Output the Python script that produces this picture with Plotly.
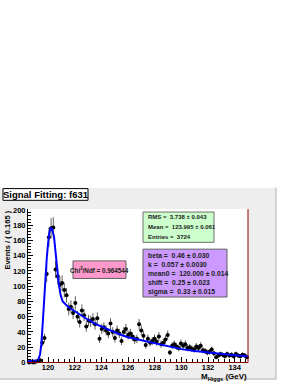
import numpy as np
import plotly.graph_objects as go

W, H = 299, 387

# ---- data ----
x_lo, x_hi, n_bins = 118.5, 135.0, 100
bin_width = 0.165
counts = [0, 1, 0, 1, 2, 3, 26, 32, 116, 164,
          176, 177, 122, 113, 102, 104, 95, 88, 70, 73,
          65, 78, 60, 53, 68, 62, 47, 55, 54, 57,
          50, 58, 31, 44, 46, 42, 38, 51, 40, 32,
          42, 38, 28, 40, 44, 36, 38, 34, 30, 31,
          50, 42, 35, 23, 31, 26, 28, 31, 27, 34,
          24, 26, 30, 36, 13, 22, 24, 21, 19, 25,
          22, 24, 19, 20, 18, 17, 21, 19, 22, 16,
          15, 13, 14, 17, 12, 7, 9, 11, 10, 8,
          11, 9, 10, 8, 11, 9, 8, 10, 9, 7]

fit_x = [118.5, 119.0, 119.25, 119.4, 119.5, 119.6, 119.75, 119.9, 120.0, 120.1,
         120.2, 120.3, 120.45, 120.63, 120.8, 120.95, 121.1, 121.5, 122.0, 122.5,
         123.0, 123.5, 124.0, 124.5, 125.0, 125.5, 126.0, 127.0, 128.0, 129.0,
         130.0, 131.0, 132.0, 133.0, 134.0, 135.0]
fit_y = [1.5, 2, 3, 10, 24, 50, 100, 135, 155, 170,
         176, 175, 165, 130, 104, 88, 80, 73, 67, 61,
         56, 51, 47, 43, 39.5, 36, 33, 29, 25, 21,
         17.5, 15, 13, 11, 9.5, 8]

x_ticks = [120, 122, 124, 126, 128, 130, 132, 134]
y_ticks = [0, 20, 40, 60, 80, 100, 120, 140, 160, 180, 200]

title_text = "Signal Fitting: f631"
stats_lines = ["RMS =  3.738 ± 0.043", "Mean =  123.995 ± 0.061", "Entries =  3724"]
param_lines = ["beta =  0.46 ± 0.030", "k =  0.057 ± 0.0030", "mean0 =  120.000 ± 0.014",
               "shift =  0.25 ± 0.023", "sigma =  0.33 ± 0.015"]
chi_text = "Chi<sup>2</sup>/Ndf = 0.964544"

centers = x_lo + bin_width * (np.arange(n_bins) + 0.5)
counts = np.array(counts, dtype=float)
errs = np.sqrt(counts)


def px(x):
    return x / W


def py(y):
    return 1 - y / H


FONT = "Liberation Sans, Arial, Helvetica, sans-serif"

fig = go.Figure()
fig.add_trace(go.Scatter(
    x=centers, y=counts, mode="markers",
    marker=dict(color="black", size=4),
    error_y=dict(type="data", array=errs, color="#606060", thickness=1, width=0),
    cliponaxis=False, showlegend=False, hoverinfo="skip"))
fig.add_trace(go.Scatter(
    x=fit_x, y=fit_y, mode="lines", line=dict(color="#0000ff", width=2),
    showlegend=False, hoverinfo="skip"))

shapes = []
# ROOT canvas background
shapes.append(dict(type="rect", xref="paper", yref="paper", layer="below",
                   x0=px(0), x1=px(276), y0=py(384), y1=py(188),
                   fillcolor="#eeeeee", line=dict(width=0)))
# white frame area
shapes.append(dict(type="rect", xref="paper", yref="paper", layer="below",
                   x0=px(28), x1=px(248), y0=py(367), y1=py(210),
                   fillcolor="white", line=dict(width=0)))
shapes.append(dict(type="line", xref="paper", yref="paper",
                   x0=px(276), x1=px(276), y0=py(384), y1=py(188),
                   line=dict(color="#b0b0b0", width=1)))
shapes.append(dict(type="line", xref="paper", yref="paper",
                   x0=px(0), x1=px(276), y0=py(384), y1=py(384),
                   line=dict(color="#b0b0b0", width=1)))
# right frame line
shapes.append(dict(type="line", xref="paper", yref="paper",
                   x0=px(248), x1=px(248), y0=py(367), y1=py(210),
                   line=dict(color="#8b0000", width=1)))
# stat boxes
shapes.append(dict(type="rect", xref="paper", yref="paper",
                   x0=px(143), x1=px(214), y0=py(244), y1=py(213),
                   fillcolor="#ccffcc", line=dict(color="#707070", width=1)))
shapes.append(dict(type="rect", xref="paper", yref="paper",
                   x0=px(143), x1=px(227), y0=py(300), y1=py(251),
                   fillcolor="#cc99ff", line=dict(color="#606060", width=1)))
shapes.append(dict(type="rect", xref="paper", yref="paper",
                   x0=px(73), x1=px(126), y0=py(281), y1=py(263),
                   fillcolor="#ff99cc", line=dict(color="#606060", width=1)))
# title box
shapes.append(dict(type="rect", xref="paper", yref="paper",
                   x0=px(3), x1=px(88), y0=py(201), y1=py(189),
                   fillcolor="white", line=dict(color="black", width=1)))

ann = []
ann.append(dict(text="<b>" + title_text + "</b>", x=px(45.5), y=py(195), xref="paper", yref="paper",
                xanchor="center", yanchor="middle", showarrow=False,
                font=dict(family=FONT, size=9.5, color="black")))
for i, t in enumerate(stats_lines):
    ann.append(dict(text="<b>" + t + "</b>", x=px(146), y=py(218.5 + 10.2 * i), xref="paper", yref="paper",
                    xanchor="left", yanchor="middle", showarrow=False,
                    font=dict(family=FONT, size=6, color="#202020")))
for i, t in enumerate(param_lines):
    ann.append(dict(text="<b>" + t + "</b>", x=px(146), y=py(257 + 9.5 * i), xref="paper", yref="paper",
                    xanchor="left", yanchor="middle", showarrow=False,
                    font=dict(family=FONT, size=6.8, color="#202020")))
ann.append(dict(text="<b>" + chi_text + "</b>", x=px(99.5), y=py(272), xref="paper", yref="paper",
                xanchor="center", yanchor="middle", showarrow=False,
                font=dict(family=FONT, size=6.3, color="#202020")))
ann.append(dict(text="<b>Events / ( 0.165 )</b>", x=px(8), y=py(210), xref="paper", yref="paper",
                xanchor="center", yanchor="top", textangle=-90, showarrow=False,
                font=dict(family=FONT, size=7.5, color="black")))
ann.append(dict(text="<b>M<sub>Higgs</sub> (GeV)</b>", x=px(249), y=py(382), xref="paper", yref="paper",
                xanchor="right", yanchor="middle", showarrow=False,
                font=dict(family=FONT, size=8, color="black")))

fig.update_layout(
    width=W, height=H, margin=dict(l=0, r=0, t=0, b=0),
    paper_bgcolor="white", plot_bgcolor="white",
    shapes=shapes, annotations=ann,
    xaxis=dict(domain=[px(28), px(248)], range=[x_lo, x_hi], tickvals=x_ticks,
               ticks="inside", ticklen=5, tickcolor="black", showgrid=False, zeroline=False,
               showline=True, linecolor="#8b0000", linewidth=1, ticklabelstandoff=-2,
               tickfont=dict(family=FONT, size=7.5, color="black", weight="bold"),
               minor=dict(ticks="inside", ticklen=3, tick0=120, dtick=0.4, tickcolor="black", showgrid=False)),
    yaxis=dict(domain=[py(367), py(210)], range=[0, 201], tickvals=y_ticks,
               ticks="inside", ticklen=5, tickcolor="black", showgrid=False, zeroline=False,
               showline=True, linecolor="black", linewidth=1,
               tickfont=dict(family=FONT, size=7.5, color="black", weight="bold"),
               minor=dict(ticks="inside", ticklen=3, tick0=0, dtick=4, tickcolor="black", showgrid=False)),
)

fig.write_html("out.html", config={"displayModeBar": False},
               post_script="document.body.style.margin='0px';")
